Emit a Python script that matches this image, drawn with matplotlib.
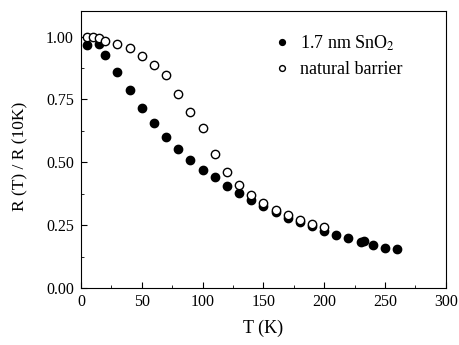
import matplotlib
matplotlib.use("Agg")
import matplotlib.pyplot as plt
from matplotlib.ticker import MultipleLocator, FormatStrFormatter

plt.rcParams['font.family'] = ['Liberation Serif', 'DejaVu Serif']
plt.rcParams['mathtext.fontset'] = 'stix'

# 1.7 nm SnO2 barrier (filled)
t_sno2 = [5, 15, 20, 30, 40, 50, 60, 70, 80, 90, 100, 110, 120, 130, 140, 150,
          160, 170, 180, 190, 200, 210, 220, 230, 233, 240, 250, 260]
r_sno2 = [0.965, 0.970, 0.925, 0.858, 0.786, 0.717, 0.656, 0.601, 0.552, 0.509,
          0.471, 0.440, 0.405, 0.377, 0.350, 0.327, 0.303, 0.278, 0.261, 0.248,
          0.226, 0.210, 0.198, 0.185, 0.186, 0.173, 0.160, 0.154]

# natural barrier (open)
t_nat = [5, 10, 15, 20, 30, 40, 50, 60, 70, 80, 90, 100, 110, 120, 130, 140,
         150, 160, 170, 180, 190, 200]
r_nat = [1.000, 0.997, 0.993, 0.983, 0.971, 0.953, 0.921, 0.886, 0.848, 0.772,
         0.701, 0.637, 0.534, 0.463, 0.410, 0.371, 0.337, 0.311, 0.291, 0.269,
         0.255, 0.241]

fig = plt.figure(figsize=(4.6, 3.45), dpi=100)
ax = fig.add_axes([0.176, 0.165, 0.793, 0.802])

ax.plot(t_sno2, r_sno2, 'o', color='black', ms=6.0, label=r'1.7 nm SnO$_2$')
ax.plot(t_nat, r_nat, 'o', mfc='white', mec='black', mew=1.0, ms=6.0,
        label='natural barrier')

ax.set_xlim(0, 300)
ax.set_ylim(0, 1.1)
ax.xaxis.set_major_locator(MultipleLocator(50))
ax.xaxis.set_minor_locator(MultipleLocator(25))
ax.yaxis.set_major_locator(MultipleLocator(0.25))
ax.yaxis.set_minor_locator(MultipleLocator(0.125))
ax.yaxis.set_major_formatter(FormatStrFormatter('%.2f'))
ax.tick_params(which='both', direction='in', labelsize=11.5)
ax.tick_params(which='major', length=4)
ax.tick_params(which='minor', length=2)
ax.tick_params(axis='x', pad=4)
ax.tick_params(axis='y', pad=5)

ax.set_xlabel('T (K)', fontsize=13, labelpad=7)
ax.set_ylabel('R (T) / R (10K)', fontsize=12.5, labelpad=13)
ax.yaxis.label.set_y(0.475)

ax.legend(loc='upper left', frameon=False, fontsize=13, markerscale=0.7,
          handlelength=1.0, handletextpad=0.5, labelspacing=0.45,
          borderpad=0.4, bbox_to_anchor=(0.483, 0.979))

fig.savefig('out.png', dpi=100)
